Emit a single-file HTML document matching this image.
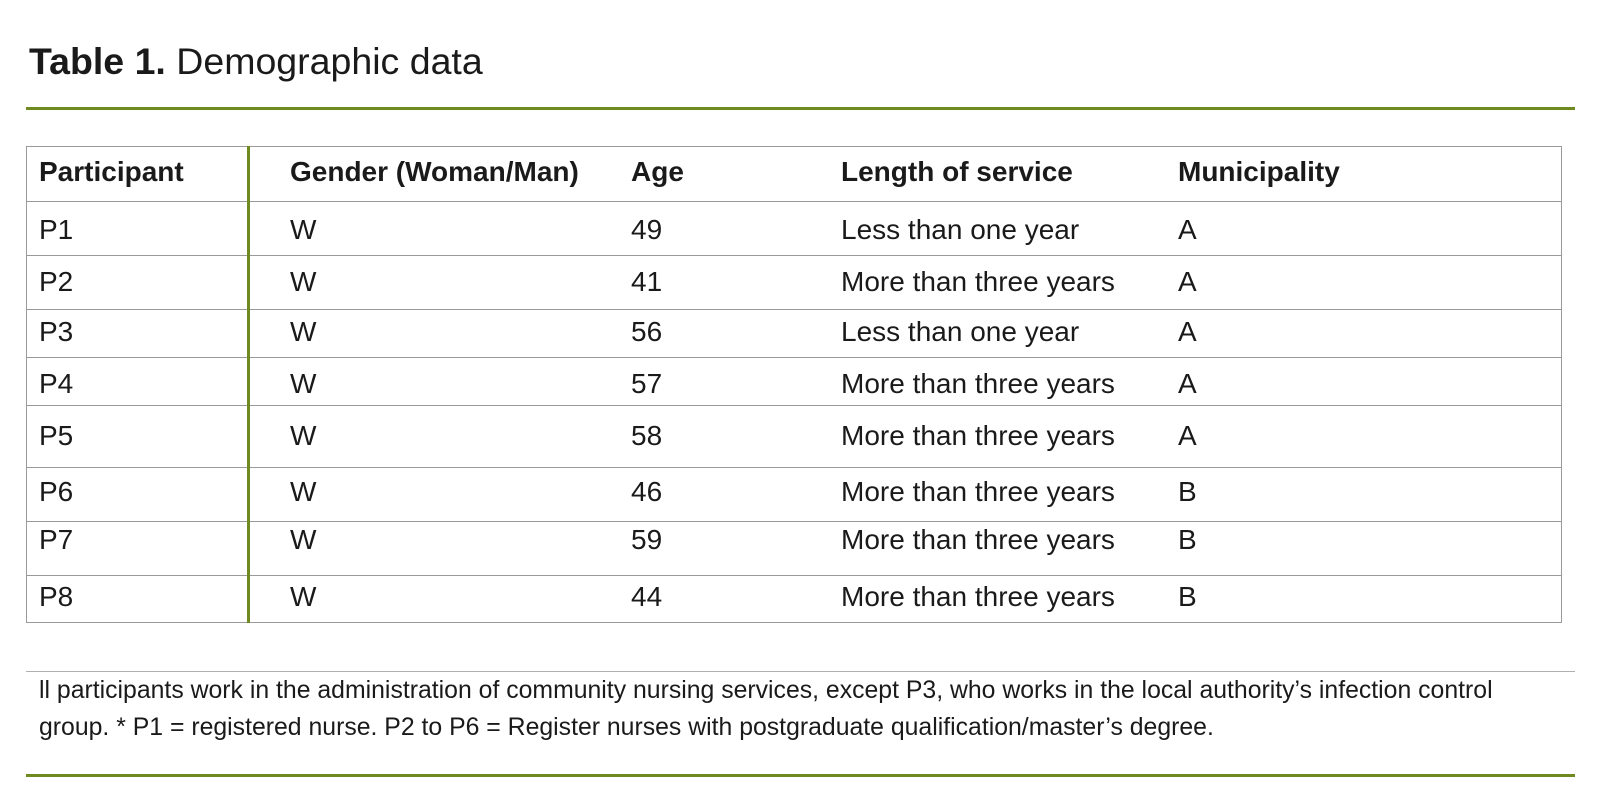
<!DOCTYPE html>
<html><head><meta charset="utf-8"><style>
body{margin:0;width:1600px;height:804px;background:#fff;position:relative;overflow:hidden;font-family:"Liberation Sans",sans-serif;color:#1a1a1a}
.a{position:absolute;white-space:nowrap}
.h{position:absolute;left:26px;width:1535px;height:1px;background:#9a9a9a}
.t{position:absolute;font-size:28px;line-height:32px;white-space:nowrap;transform:translateY(-16px)}
.b{font-weight:bold}
</style></head><body>
<div class="a" style="left:29px;top:40px;font-size:37.5px;line-height:42px"><b>Table 1.</b> Demographic data</div>
<div class="a" style="left:26px;top:107px;width:1549px;height:3px;background:#6f8a1e"></div>

<div class="a" style="left:26px;top:146px;width:1534px;height:475px;border:1px solid #9a9a9a"></div>
<div class="h" style="top:201px"></div>
<div class="h" style="top:255px"></div>
<div class="h" style="top:309px"></div>
<div class="h" style="top:357px"></div>
<div class="h" style="top:405px"></div>
<div class="h" style="top:467px"></div>
<div class="h" style="top:521px"></div>
<div class="h" style="top:575px"></div>
<div class="a" style="left:247px;top:146px;width:3px;height:477px;background:#6f8a1e"></div>

<div class="t b" style="left:39px;top:172px">Participant</div>
<div class="t b" style="left:290px;top:172px">Gender (Woman/Man)</div>
<div class="t b" style="left:631px;top:172px">Age</div>
<div class="t b" style="left:841px;top:172px">Length of service</div>
<div class="t b" style="left:1178px;top:172px">Municipality</div>

<div class="t" style="left:39px;top:230px">P1</div><div class="t" style="left:290px;top:230px">W</div><div class="t" style="left:631px;top:230px">49</div><div class="t" style="left:841px;top:230px">Less than one year</div><div class="t" style="left:1178px;top:230px">A</div>
<div class="t" style="left:39px;top:282px">P2</div><div class="t" style="left:290px;top:282px">W</div><div class="t" style="left:631px;top:282px">41</div><div class="t" style="left:841px;top:282px">More than three years</div><div class="t" style="left:1178px;top:282px">A</div>
<div class="t" style="left:39px;top:332px">P3</div><div class="t" style="left:290px;top:332px">W</div><div class="t" style="left:631px;top:332px">56</div><div class="t" style="left:841px;top:332px">Less than one year</div><div class="t" style="left:1178px;top:332px">A</div>
<div class="t" style="left:39px;top:384px">P4</div><div class="t" style="left:290px;top:384px">W</div><div class="t" style="left:631px;top:384px">57</div><div class="t" style="left:841px;top:384px">More than three years</div><div class="t" style="left:1178px;top:384px">A</div>
<div class="t" style="left:39px;top:436px">P5</div><div class="t" style="left:290px;top:436px">W</div><div class="t" style="left:631px;top:436px">58</div><div class="t" style="left:841px;top:436px">More than three years</div><div class="t" style="left:1178px;top:436px">A</div>
<div class="t" style="left:39px;top:492px">P6</div><div class="t" style="left:290px;top:492px">W</div><div class="t" style="left:631px;top:492px">46</div><div class="t" style="left:841px;top:492px">More than three years</div><div class="t" style="left:1178px;top:492px">B</div>
<div class="t" style="left:39px;top:540px">P7</div><div class="t" style="left:290px;top:540px">W</div><div class="t" style="left:631px;top:540px">59</div><div class="t" style="left:841px;top:540px">More than three years</div><div class="t" style="left:1178px;top:540px">B</div>
<div class="t" style="left:39px;top:597px">P8</div><div class="t" style="left:290px;top:597px">W</div><div class="t" style="left:631px;top:597px">44</div><div class="t" style="left:841px;top:597px">More than three years</div><div class="t" style="left:1178px;top:597px">B</div>

<div class="a" style="left:26px;top:671px;width:1549px;height:1px;background:#b0b0b0"></div>
<div class="a" style="left:39px;top:672px;font-size:24.8px;line-height:37px">ll participants work in the administration of community nursing services, except P3, who works in the local authority’s infection control<br>group. * P1 = registered nurse. P2 to P6 = Register nurses with postgraduate qualification/master’s degree.</div>
<div class="a" style="left:26px;top:774px;width:1549px;height:3px;background:#6f8a1e"></div>
</body></html>
